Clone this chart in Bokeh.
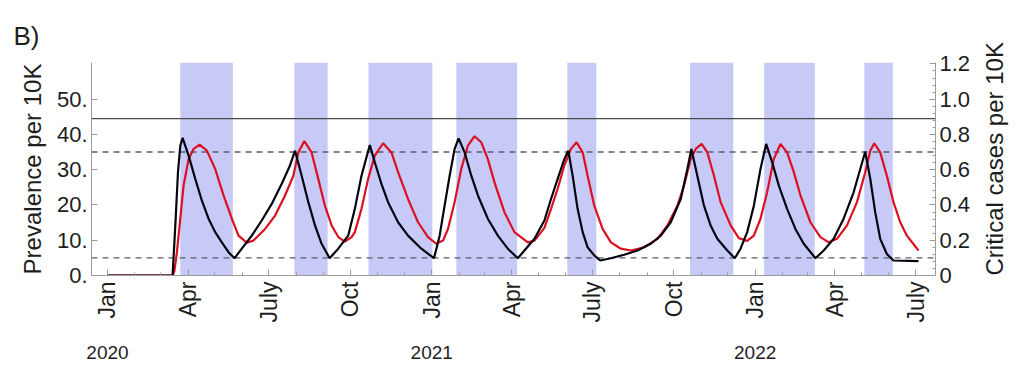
import math
import pandas as pd
from bokeh.plotting import figure
from bokeh.models import (Range1d, LinearAxis, DatetimeAxis, FixedTicker,
                          CustomJSTickFormatter, Span, BoxAnnotation)
from bokeh.embed import file_html
from bokeh.resources import INLINE

# ---------------- data ----------------
start_date = "2020-01-01"

# Prevalence per 10K (black), days since start_date
black_day = [0, 73.5, 76.6, 79.6, 82.2, 84.8, 91.6, 99.1, 106.6, 114.1,
             121.6, 129.1, 136.6, 143.4, 151.6, 162.9, 174.1, 185.4, 196.7, 206.0,
             211.7, 219.2, 226.7, 234.2, 241.7, 250.7, 260.5, 271.7, 279.2, 286.7,
             296.1, 301.7, 309.2, 316.7, 328.0, 339.2, 354.3, 368.5, 374.9, 380.5,
             386.2, 391.8, 396.3, 403.1, 410.6, 418.1, 429.3, 440.6, 451.8, 463.1,
             470.6, 481.9, 493.1, 500.6, 508.1, 515.6, 520.1, 525.0, 530.6, 536.3,
             541.9, 549.4, 556.1, 568.2, 583.2, 598.2, 613.2, 624.5, 635.7, 647.0,
             654.5, 659.0, 665.7, 673.2, 680.7, 688.3, 699.5, 708.0, 714.5, 722.0,
             729.5, 737.0, 743.4, 750.2, 757.7, 767.0, 776.4, 785.8, 799.0, 808.3,
             819.6, 830.8, 842.1, 849.6, 855.2, 860.9, 866.5, 872.1, 879.6, 887.1,
             915.3]
black_prev = [0, 0, 14.2, 29.3, 36.8, 39.0, 34.0, 27.4, 21.2, 16.1,
              12.3, 9.4, 6.6, 4.9, 7.6, 11.3, 15.6, 20.3, 26.0, 31.2,
              35.4, 28.3, 20.8, 14.2, 9.0, 4.9, 7.6, 11.3, 18.9, 28.3,
              37.0, 32.1, 26.0, 20.8, 15.1, 11.3, 7.6, 4.9, 11.3, 19.8,
              28.3, 35.9, 38.9, 34.9, 28.3, 22.7, 16.1, 11.3, 7.6, 4.9,
              7.1, 10.4, 15.6, 21.7, 27.4, 33.0, 35.4, 28.3, 18.9, 12.3,
              8.0, 5.7, 4.25, 4.9, 5.9, 7.1, 9.0, 11.3, 15.1, 21.7,
              30.2, 35.9, 28.3, 19.8, 14.2, 10.4, 7.1, 4.9, 7.6, 12.3,
              19.8, 30.2, 37.3, 32.1, 25.5, 18.9, 13.2, 9.0, 4.9, 7.1,
              10.4, 16.1, 23.6, 30.2, 35.1, 27.4, 17.9, 10.4, 6.1, 4.25,
              4.05]

# Critical cases per 10K (red), days since start_date
red_day = [0, 73.5, 75.5, 78.4, 82.2, 85.9, 91.6, 97.2, 104.0, 112.2,
           121.6, 131.0, 140.4, 147.9, 157.2, 164.8, 177.9, 189.2, 200.4, 209.8,
           215.4, 222.2, 230.4, 237.9, 245.4, 253.0, 260.5, 268.0, 275.5, 279.2,
           286.7, 294.2, 301.7, 311.1, 320.5, 328.0, 339.2, 350.5, 361.8, 371.1,
           378.7, 384.3, 391.8, 399.3, 406.8, 414.3, 421.8, 429.3, 436.8, 448.1,
           459.3, 474.4, 481.9, 489.4, 493.1, 500.6, 508.1, 515.6, 523.1, 529.5,
           536.3, 541.9, 549.4, 558.8, 568.2, 579.4, 590.7, 605.7, 620.7, 632.0,
           643.2, 650.7, 658.2, 663.9, 670.6, 677.0, 684.5, 692.0, 703.3, 712.6,
           722.0, 729.5, 737.0, 744.5, 752.0, 759.5, 767.0, 774.6, 782.1, 793.3,
           804.6, 814.0, 823.3, 834.6, 845.9, 855.2, 860.9, 865.4, 872.1, 879.6,
           887.1, 894.7, 902.2, 915.3]
red_crit = [0, 0, 0.024, 0.132, 0.322, 0.510, 0.660, 0.718, 0.742, 0.708,
            0.604, 0.454, 0.322, 0.226, 0.186, 0.198, 0.264, 0.340, 0.454, 0.566,
            0.698, 0.762, 0.698, 0.548, 0.396, 0.284, 0.218, 0.192, 0.218, 0.246,
            0.378, 0.548, 0.680, 0.750, 0.698, 0.586, 0.434, 0.302, 0.218, 0.180,
            0.198, 0.264, 0.416, 0.604, 0.736, 0.790, 0.756, 0.660, 0.528, 0.358,
            0.246, 0.188, 0.198, 0.246, 0.270, 0.378, 0.492, 0.624, 0.718, 0.756,
            0.698, 0.566, 0.396, 0.264, 0.188, 0.152, 0.142, 0.160, 0.208, 0.284,
            0.396, 0.510, 0.660, 0.718, 0.746, 0.698, 0.566, 0.416, 0.284, 0.212,
            0.196, 0.226, 0.322, 0.472, 0.660, 0.746, 0.698, 0.586, 0.454, 0.302,
            0.218, 0.188, 0.208, 0.284, 0.416, 0.586, 0.708, 0.750, 0.698, 0.566,
            0.416, 0.302, 0.226, 0.142]

# Lockdown periods (shaded), days since start_date
lock_start = [82.2, 210.9, 294.6, 393.7, 519.0, 657.5, 741.2, 854.2]
lock_end = [141.5, 248.5, 366.7, 462.4, 551.7, 706.3, 798.3, 886.4]

# Reference lines (prevalence per 10K)
solid_levels = [44.5]
dashed_levels = [35, 5]

# Tick labels
x_tick_dates = ["2020-01-01", "2020-04-01", "2020-07-01", "2020-10-01",
                "2021-01-01", "2021-04-01", "2021-07-01", "2021-10-01",
                "2022-01-01", "2022-04-01", "2022-07-01"]
x_tick_labels = ["Jan", "Apr", "July", "Oct", "Jan", "Apr", "July", "Oct",
                 "Jan", "Apr", "July"]
year_dates = ["2020-01-01", "2021-01-01", "2022-01-01"]
year_labels = ["2020", "2021", "2022"]
y_left_ticks = [0, 10, 20, 30, 40, 50]
y_left_labels = ["0.", "10.", "20.", "30.", "40.", "50."]
y_right_ticks = [0, 0.2, 0.4, 0.6, 0.8, 1.0, 1.2]
y_right_labels = ["0", "0.2", "0.4", "0.6", "0.8", "1.0", "1.2"]

# ---------------- helpers ----------------
t0 = pd.Timestamp(start_date)


def day_ms(d):
    return (t0 + pd.Timedelta(days=d)).value / 1e6


def date_ms(s):
    return pd.Timestamp(s).value / 1e6


FONT = "Liberation Sans"
AXIS_COLOR = "#9c9c9c"
TEXT_COLOR = "#1e1e1e"

LOOKUP = """
for (let i = 0; i < tvals.length; i++) {
    if (Math.abs(tvals[i] - tick) < tol) return tlabels[i];
}
return "";
"""

x_start = day_ms(-18)
x_end = day_ms(934.5)

p = figure(width=1024, height=368, x_axis_type="datetime",
           output_backend="svg", toolbar_location=None,
           x_range=Range1d(x_start, x_end), y_range=Range1d(0, 60.4),
           min_border_left=91, min_border_right=87,
           min_border_top=62, min_border_bottom=93)
p.extra_y_ranges = {"crit": Range1d(0, 1.208)}
p.outline_line_color = None
p.xgrid.visible = False
p.ygrid.visible = False
p.background_fill_color = "white"
p.border_fill_color = "white"

# panel title "B)"
p.title.text = "B)"
p.title.text_font = FONT
p.title.text_font_size = "26px"
p.title.text_font_style = "normal"
p.title.text_color = TEXT_COLOR
p.title.align = "left"
p.title.offset = -78
p.title.standoff = 20
p.title.vertical_align = "top"

# shaded lockdown periods
for s, e in zip(lock_start, lock_end):
    p.add_layout(BoxAnnotation(left=day_ms(s), right=day_ms(e),
                               fill_color="#c7caf7", fill_alpha=1.0,
                               line_color=None, level="underlay"))

# reference lines
for lv in solid_levels:
    p.add_layout(Span(location=lv, dimension="width", line_color="#4a4a4a",
                      line_width=1.2, level="underlay"))
for lv in dashed_levels:
    p.add_layout(Span(location=lv, dimension="width", line_color="#5b5f6e",
                      line_width=1.4, line_dash="6 5", level="underlay"))

# curves
p.line([day_ms(d) for d in red_day], red_crit, y_range_name="crit",
       line_color="#dc1020", line_width=2.2)
p.line([day_ms(d) for d in black_day], black_prev,
       line_color="#050510", line_width=2.2)


# ---------------- axes ----------------
def style_axis(ax):
    ax.axis_line_color = AXIS_COLOR
    ax.major_tick_line_color = AXIS_COLOR
    ax.minor_tick_line_color = AXIS_COLOR
    ax.major_tick_in = 6
    ax.major_tick_out = 0
    ax.minor_tick_in = 3
    ax.minor_tick_out = 0
    ax.major_label_text_font = FONT
    ax.major_label_text_color = TEXT_COLOR
    ax.axis_label_text_font = FONT
    ax.axis_label_text_color = TEXT_COLOR
    ax.axis_label_text_font_style = "normal"


# bottom axis (months)
major_ms = [date_ms(d) for d in x_tick_dates]
minor_ms = [d.value / 1e6 for d in pd.date_range("2019-12-01", "2022-07-01", freq="MS")]
xax = p.xaxis[0]
xax.ticker = FixedTicker(ticks=major_ms, minor_ticks=minor_ms)
xax.formatter = CustomJSTickFormatter(
    args=dict(tvals=major_ms, tlabels=x_tick_labels, tol=1e6), code=LOOKUP)
style_axis(xax)
xax.major_label_orientation = math.pi / 2
xax.major_label_text_font_size = "23px"
xax.major_label_standoff = 6

# second bottom axis (years)
year_ms = [date_ms(d) for d in year_dates]
yr_ax = DatetimeAxis(ticker=FixedTicker(ticks=year_ms, minor_ticks=[]),
                     formatter=CustomJSTickFormatter(
                         args=dict(tvals=year_ms, tlabels=year_labels, tol=1e6),
                         code=LOOKUP))
yr_ax.axis_line_color = None
yr_ax.major_tick_line_color = None
yr_ax.minor_tick_line_color = None
yr_ax.major_label_text_font = FONT
yr_ax.major_label_text_font_size = "19px"
yr_ax.major_label_text_color = TEXT_COLOR
yr_ax.major_label_standoff = 14
p.add_layout(yr_ax, "below")

# left axis
yax = p.yaxis[0]
yax.ticker = FixedTicker(ticks=y_left_ticks, minor_ticks=[])
yax.formatter = CustomJSTickFormatter(
    args=dict(tvals=y_left_ticks, tlabels=y_left_labels, tol=1e-6), code=LOOKUP)
style_axis(yax)
yax.major_label_text_font_size = "22px"
yax.major_label_standoff = 4
yax.axis_label = "Prevalence per 10K"
yax.axis_label_text_font_size = "24px"
yax.axis_label_standoff = 8

# right axis
rax = LinearAxis(y_range_name="crit",
                 ticker=FixedTicker(ticks=y_right_ticks,
                                    minor_ticks=[i * 0.04 for i in range(31)]),
                 formatter=CustomJSTickFormatter(
                     args=dict(tvals=y_right_ticks, tlabels=y_right_labels, tol=1e-6),
                     code=LOOKUP))
style_axis(rax)
rax.major_label_text_font_size = "22px"
rax.major_label_standoff = 4
rax.axis_label = "Critical cases per 10K"
rax.axis_label_text_font_size = "24px"
rax.axis_label_standoff = 21
rax.axis_label_orientation = math.pi / 2
try:
    rax.axis_label_align = "start"
except Exception:
    pass
p.add_layout(rax, "right")

open("out.html", "w").write(file_html(p, INLINE))
